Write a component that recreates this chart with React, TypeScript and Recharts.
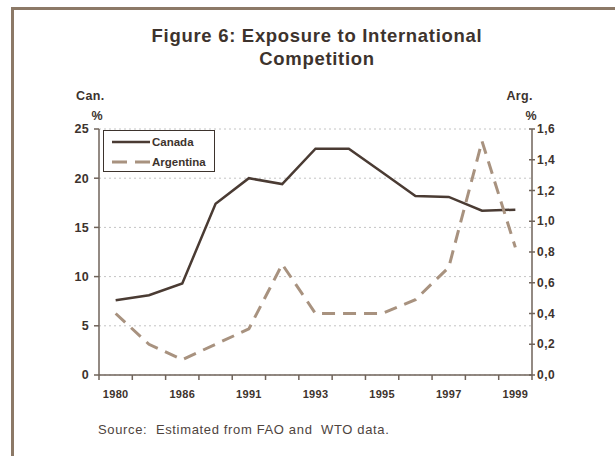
import React from 'react';
import { LineChart, Line, XAxis, YAxis, CartesianGrid, Legend } from 'recharts';

// categories (only every other year is labelled on the axis)
const years = ['1980', '1983', '1986', '1989', '1991', '1992', '1993', '1994', '1995', '1996', '1997', '1998', '1999'];
// Canada, left axis (%)
const canada = [7.6, 8.1, 9.3, 17.4, 20.0, 19.4, 23.0, 23.0, 20.6, 18.2, 18.1, 16.7, 16.8];
// Argentina, right axis (%)
const argentina = [0.4, 0.2, 0.1, 0.2, 0.3, 0.72, 0.4, 0.4, 0.4, 0.49, 0.7, 1.52, 0.83];

const canTicks = [0, 5, 10, 15, 20, 25];
const argTicks = [0, 0.2, 0.4, 0.6, 0.8, 1.0, 1.2, 1.4, 1.6];
const legendOrder = ['Canada', 'Argentina'];

const data = years.map((year, i) => ({ year, canada: canada[i], argentina: argentina[i] }));

const FONT = '"Liberation Sans", Arial, sans-serif';
const TEXT = '#3d332d';
const AXIS = '#6f635a';
const CAN_COLOR = '#4a3b33';
const ARG_COLOR = '#a8927f';

const X_TICK = 5;
const X_MARGIN = 9;

const fmtArg = (v: number) => v.toFixed(1).replace('.', ',');

// year labels on every other category, tick marks on the category edges
const YearTick = ({ x, y, payload, index, visibleTicksCount }: any) => {
  const half = payload.offset || 0;
  const axisY = y - X_TICK - X_MARGIN;
  const last = index === visibleTicksCount - 1;
  return (
    <g>
      <line x1={x - half} x2={x - half} y1={axisY} y2={axisY + X_TICK} stroke={AXIS} strokeWidth={1.5} />
      {last && <line x1={x + half} x2={x + half} y1={axisY} y2={axisY + X_TICK} stroke={AXIS} strokeWidth={1.5} />}
      {index % 2 === 0 && (
        <text x={x} y={y} dy={9} textAnchor="middle" fill={TEXT} fontSize={11} fontWeight="bold" fontFamily={FONT} letterSpacing={0.3}>
          {payload.value}
        </text>
      )}
    </g>
  );
};

const RightTick = ({ x, y, payload }: any) => (
  <g>
    <line x1={x - 8} x2={x - 2} y1={y} y2={y} stroke={AXIS} strokeWidth={1.5} />
    <text x={x} y={y} dy={4} textAnchor="start" fill={TEXT} fontSize={12} fontWeight="bold" fontFamily={FONT} letterSpacing={0.5}>
      {fmtArg(payload.value)}
    </text>
  </g>
);

const renderLegend = (props: any) => {
  const items = [...(props.payload || [])].sort(
    (a: any, b: any) => legendOrder.indexOf(a.value) - legendOrder.indexOf(b.value)
  );
  return (
    <div
      style={{
        width: 112,
        height: 42,
        boxSizing: 'border-box',
        border: `1px solid ${TEXT}`,
        background: '#fff',
        paddingTop: 1,
      }}
    >
      {items.map((entry: any) => (
        <div key={entry.value} style={{ height: 20, display: 'flex', alignItems: 'center' }}>
          <svg width={47} height={6} style={{ display: 'block' }}>
            <line
              x1={8}
              x2={46}
              y1={3}
              y2={3}
              stroke={entry.color}
              strokeWidth={entry.payload?.strokeDasharray ? 3 : 2.5}
              strokeDasharray={entry.payload?.strokeDasharray ? '15 8' : undefined}
            />
          </svg>
          <span style={{ fontFamily: FONT, fontSize: 11.5, fontWeight: 'bold', color: TEXT, marginLeft: 1 }}>
            {entry.value}
          </span>
        </div>
      ))}
    </div>
  );
};

const label = (extra: React.CSSProperties): React.CSSProperties => ({
  position: 'absolute',
  fontFamily: FONT,
  fontWeight: 'bold',
  color: TEXT,
  ...extra,
});

export default function App() {
  return (
    <div style={{ position: 'fixed', left: 0, top: 0, width: 615, height: 456, overflow: 'hidden', background: '#fff' }}>
      <div
        style={{
          position: 'absolute',
          left: 11,
          top: 7,
          width: 700,
          height: 600,
          borderLeft: '3px solid #8c7967',
          borderTop: '3px solid #8c7967',
        }}
      />
      <div style={label({ left: 117, top: 24, width: 400, textAlign: 'center', fontSize: 18.5, lineHeight: '23px', letterSpacing: 0.7 })}>
        Figure 6: Exposure to International
        <br />
        Competition
      </div>
      <div style={label({ left: 76, top: 89, fontSize: 12.5, lineHeight: '15px', letterSpacing: 0.4 })}>Can.</div>
      <div style={label({ left: 87, top: 109, width: 20, textAlign: 'center', fontSize: 12.5, lineHeight: '15px' })}>%</div>
      <div style={label({ left: 493, top: 89, width: 40, textAlign: 'right', fontSize: 12.5, lineHeight: '15px', letterSpacing: 0.4 })}>Arg.</div>
      <div style={label({ left: 521, top: 109, width: 20, textAlign: 'center', fontSize: 12.5, lineHeight: '15px' })}>%</div>

      <div style={{ position: 'absolute', left: 0, top: 0 }}>
        <LineChart width={615} height={456} data={data} margin={{ top: 129, right: 43, bottom: 61, left: 59 }}>
          <CartesianGrid xAxisId="cat" yAxisId="can" vertical={false} stroke="#c4c4c4" strokeDasharray="2 3" />
          <XAxis
            xAxisId="cat"
            dataKey="year"
            scale="band"
            interval={0}
            height={20}
            tickLine={false}
            tickSize={X_TICK}
            tickMargin={X_MARGIN}
            axisLine={{ stroke: AXIS, strokeWidth: 1.5 }}
            tick={<YearTick />}
          />
          <YAxis
            yAxisId="can"
            orientation="left"
            width={40}
            domain={[0, 25]}
            ticks={canTicks}
            tickSize={5}
            tickMargin={5}
            axisLine={{ stroke: AXIS, strokeWidth: 1.5 }}
            tickLine={{ stroke: AXIS, strokeWidth: 1.5 }}
            tick={{ fill: TEXT, fontSize: 12.5, fontWeight: 'bold', fontFamily: FONT, letterSpacing: 0.3 }}
          />
          <YAxis
            yAxisId="arg"
            orientation="right"
            width={40}
            domain={[0, 1.6]}
            ticks={argTicks}
            tickSize={3}
            tickMargin={2}
            tickLine={false}
            axisLine={{ stroke: AXIS, strokeWidth: 1.5 }}
            tick={<RightTick />}
          />
          <Legend
            content={renderLegend}
            layout="vertical"
            align="center"
            verticalAlign="middle"
            wrapperStyle={{ left: 103, top: 130, width: 112 }}
          />
          <Line
            xAxisId="cat"
            yAxisId="can"
            type="linear"
            dataKey="canada"
            name="Canada"
            stroke={CAN_COLOR}
            strokeWidth={2.5}
            dot={false}
            isAnimationActive={false}
          />
          <Line
            xAxisId="cat"
            yAxisId="arg"
            type="linear"
            dataKey="argentina"
            name="Argentina"
            stroke={ARG_COLOR}
            strokeWidth={3}
            strokeDasharray="13 8"
            dot={false}
            isAnimationActive={false}
          />
        </LineChart>
      </div>

      <div
        style={{
          position: 'absolute',
          left: 98,
          top: 422,
          fontFamily: FONT,
          fontSize: 13,
          color: '#4e443e',
          whiteSpace: 'pre',
          letterSpacing: 0.65,
        }}
      >
        {'Source:  Estimated from FAO and  WTO data.'}
      </div>
    </div>
  );
}
